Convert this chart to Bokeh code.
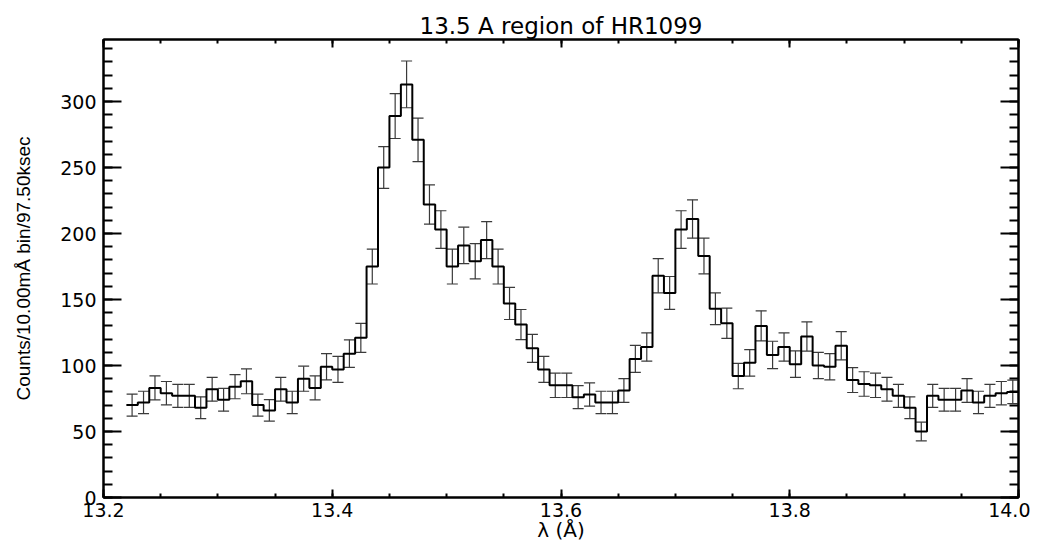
import numpy as np
from bokeh.plotting import figure
from bokeh.models import (Range1d, LinearAxis, SingleIntervalTicker, PrintfTickFormatter,
                          ColumnDataSource, Whisker, TeeHead, CustomJSTickFormatter)
from bokeh.embed import file_html
from bokeh.resources import INLINE

# --- data ---
bin_start = 13.22          # lower edge of first bin (Angstrom)
bin_width = 0.01           # 10 mA bins
counts = [70, 72, 83, 79, 77, 77, 68, 82, 74, 84,
          88, 70, 66, 82, 72, 90, 83, 99, 97, 109,
          121, 175, 250, 289, 313, 271, 222, 203, 175, 191,
          179, 195, 175, 147, 131, 113, 97, 85, 85, 76,
          78, 72, 72, 81, 105, 114, 168, 155, 203, 211,
          183, 143, 132, 92, 102, 130, 108, 114, 101, 122,
          100, 99, 115, 89, 86, 85, 82, 77, 68, 50,
          77, 74, 74, 81, 72, 77, 79, 80]
x_ticks_major = 0.2
y_ticks_major = 50

counts = np.array(counts, dtype=float)
n = len(counts)
centers = bin_start + bin_width * (np.arange(n) + 0.5)
edges = bin_start + bin_width * np.arange(n + 1)
err = np.sqrt(counts)

FONT = "DejaVu Sans"
NARROW = "Liberation Sans"

p = figure(frame_width=915, frame_height=458,
           min_border_left=103, min_border_right=12, min_border_top=39, min_border_bottom=49,
           x_range=Range1d(13.2, 14.0), y_range=Range1d(0, 347),
           output_backend="svg", toolbar_location=None,
           title="13.5 A region of HR1099")
p.title.align = "center"
p.title.text_font = FONT
p.title.text_font_style = "normal"
p.title.text_font_size = "23px"
p.title.text_color = "black"
p.title.standoff = 2
p.title.offset = 0

p.grid.visible = False
p.outline_line_color = "black"
p.outline_line_width = 2
p.background_fill_color = "white"
p.border_fill_color = "white"

xt = SingleIntervalTicker(interval=x_ticks_major, num_minor_ticks=4)
yt = SingleIntervalTicker(interval=y_ticks_major, num_minor_ticks=5)

xa = p.xaxis[0]
xa.ticker = xt
xa.formatter = PrintfTickFormatter(format="%.1f")
ya = p.yaxis[0]
ya.ticker = yt

for ax, tin, tmin in [(xa, 8, 4), (ya, 18, 9)]:
    ax.major_tick_in = tin
    ax.major_tick_out = 0
    ax.minor_tick_in = tmin
    ax.minor_tick_out = 0
    ax.axis_line_width = 2
    ax.major_tick_line_width = 2
    ax.minor_tick_line_width = 2
    ax.axis_line_color = "black"
    ax.major_tick_line_color = "black"
    ax.minor_tick_line_color = "black"
    ax.major_label_text_font = FONT
    ax.major_label_text_font_size = "19px"
    ax.major_label_text_color = "black"

xa.major_label_standoff = 5
ya.major_label_standoff = 7
xa.axis_label = "λ (Å)"
xa.axis_label_text_font = FONT
xa.axis_label_text_font_style = "normal"
xa.axis_label_text_font_size = "20px"
xa.axis_label_text_color = "black"
xa.axis_label_standoff = -2
ya.axis_label = "Counts/10.00mÅ bin/97.50ksec"
ya.axis_label_text_font = NARROW
ya.axis_label_text_font_style = "normal"
ya.axis_label_text_font_size = "19px"
ya.axis_label_text_color = "black"
ya.axis_label_standoff = 23

empty = CustomJSTickFormatter(code="return ''")
top = LinearAxis(ticker=SingleIntervalTicker(interval=x_ticks_major, num_minor_ticks=4), formatter=empty,
                 major_tick_in=8, major_tick_out=0, minor_tick_in=4, minor_tick_out=0,
                 axis_line_width=2, major_tick_line_width=2, minor_tick_line_width=2,
                 major_label_standoff=0, major_label_text_font_size="1px")
right = LinearAxis(ticker=SingleIntervalTicker(interval=y_ticks_major, num_minor_ticks=5), formatter=empty,
                   major_tick_in=18, major_tick_out=0, minor_tick_in=9, minor_tick_out=0,
                   axis_line_width=2, major_tick_line_width=2, minor_tick_line_width=2,
                   major_label_standoff=0, major_label_text_font_size="1px")
p.add_layout(top, "above")
p.add_layout(right, "right")

# error bars
src = ColumnDataSource(dict(x=centers, lo=counts - err, hi=counts + err))
wh = Whisker(base="x", lower="lo", upper="hi", source=src, dimension="height",
             line_color="#3a3a3a", line_width=1.2,
             upper_head=TeeHead(size=11, line_color="#3a3a3a", line_width=1.2),
             lower_head=TeeHead(size=11, line_color="#3a3a3a", line_width=1.2))
p.add_layout(wh)

# histogram steps
step_y = np.append(counts, counts[-1])
p.step(edges, step_y, mode="after", line_color="black", line_width=2)

open("out.html", "w").write(file_html(p, INLINE))
